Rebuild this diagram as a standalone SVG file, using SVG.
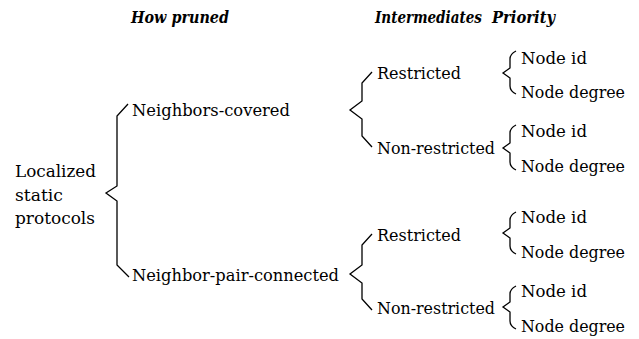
<svg xmlns="http://www.w3.org/2000/svg" width="639" height="339" viewBox="0 0 639 339">
<style>
text{font-family:"DejaVu Serif",serif;font-size:17.5px;fill:#000}
.h{font-weight:bold;font-style:italic;font-size:17px}
.b{fill:none;stroke:#000;stroke-width:1.3;stroke-linejoin:miter}
</style>
<rect width="639" height="339" fill="#fff"/>
<g id="headers">
<text class="h" x="131" y="23" textLength="98" lengthAdjust="spacingAndGlyphs">How pruned</text>
<text class="h" x="375" y="23" textLength="107" lengthAdjust="spacingAndGlyphs">Intermediates</text>
<text class="h" x="492" y="23" textLength="63" lengthAdjust="spacingAndGlyphs">Priority</text>
</g>
<g id="root">
<text x="15" y="177" textLength="81" lengthAdjust="spacingAndGlyphs">Localized</text>
<text x="15" y="200.5" textLength="48" lengthAdjust="spacingAndGlyphs">static</text>
<text x="15" y="224" textLength="80" lengthAdjust="spacingAndGlyphs">protocols</text>
</g>
<g id="neighbors-covered"><text x="132" y="116" textLength="158" lengthAdjust="spacingAndGlyphs">Neighbors-covered</text></g>
<g id="neighbor-pair-connected"><text x="132" y="281" textLength="207" lengthAdjust="spacingAndGlyphs">Neighbor-pair-connected</text></g>
<g id="nc-restricted"><text x="377" y="79" textLength="84" lengthAdjust="spacingAndGlyphs">Restricted</text></g>
<g id="nc-nonrestricted"><text x="377" y="154" textLength="118" lengthAdjust="spacingAndGlyphs">Non-restricted</text></g>
<g id="npc-restricted"><text x="377" y="241" textLength="84" lengthAdjust="spacingAndGlyphs">Restricted</text></g>
<g id="npc-nonrestricted"><text x="377" y="314" textLength="118" lengthAdjust="spacingAndGlyphs">Non-restricted</text></g>
<g id="p1"><text x="521" y="64" textLength="66" lengthAdjust="spacingAndGlyphs">Node id</text><text x="521" y="98" textLength="104" lengthAdjust="spacingAndGlyphs">Node degree</text></g>
<g id="p2"><text x="521" y="137" textLength="66" lengthAdjust="spacingAndGlyphs">Node id</text><text x="521" y="172" textLength="104" lengthAdjust="spacingAndGlyphs">Node degree</text></g>
<g id="p3"><text x="521" y="223" textLength="66" lengthAdjust="spacingAndGlyphs">Node id</text><text x="521" y="258" textLength="104" lengthAdjust="spacingAndGlyphs">Node degree</text></g>
<g id="p4"><text x="521" y="297" textLength="66" lengthAdjust="spacingAndGlyphs">Node id</text><text x="521" y="332" textLength="104" lengthAdjust="spacingAndGlyphs">Node degree</text></g>
<g id="connectors">
<path class="b" d="M128,104 L117,116 L117,186 L106,193 L117,201 L117,265 L129,277"/>
<path class="b" d="M372,72 L362,83 L362,101 L350,110 L362,119 L362,136 L372,147"/>
<path class="b" d="M372,234 L362,245 L362,265 L350,274 L362,283 L362,299 L372,310"/>
<path class="b" d="M516,51 Q510,54 510,59 L510,68 L503,73 L510,78 L510,86 Q510,91 516,94"/>
<path class="b" d="M516,125 Q510,128 510,133 L510,143 L503,148 L510,153 L510,162 Q510,167 516,170"/>
<path class="b" d="M516,212 Q510,215 510,220 L510,228 L503,233 L510,238 L510,246 Q510,251 516,254"/>
<path class="b" d="M516,286 Q510,289 510,294 L510,302 L503,307 L510,312 L510,321 Q510,326 516,329"/>
</g>
</svg>
